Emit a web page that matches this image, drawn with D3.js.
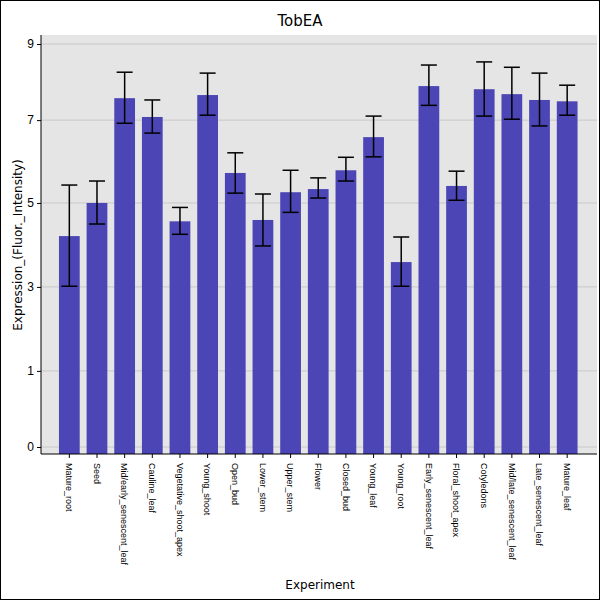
<!DOCTYPE html>
<html><head><meta charset="utf-8">
<script src="https://cdn.jsdelivr.net/npm/d3@7"></script>
<style>body{margin:0;background:#fff}svg{font-family:"DejaVu Sans",sans-serif}</style>
</head><body>
<script>
const categories = ["Mature_root","Seed","Mid/early_senescent_leaf","Cauline_leaf","Vegetative_shoot_apex","Young_shoot","Open_bud","Lower_stem","Upper_stem","Flower","Closed_bud","Young_leaf","Young_root","Early_senescent_leaf","Floral_shoot_apex","Cotyledons","Mid/late_senescent_leaf","Late_senescent_leaf","Mature_leaf"];
const values = [4.71,5.45,7.79,7.37,5.04,7.86,6.12,5.07,5.69,5.76,6.18,6.92,4.13,8.06,5.83,7.99,7.88,7.75,7.72];
const errHigh = [5.85,5.94,8.37,7.75,5.35,8.35,6.57,5.65,6.18,6.01,6.47,7.39,4.69,8.53,6.16,8.60,8.48,8.35,8.08];
const errLow = [3.59,4.98,7.23,7.01,4.75,7.41,5.67,4.49,5.24,5.56,5.94,6.48,3.59,7.63,5.51,7.39,7.32,7.17,7.41];
const tickVals = [0,1.7,3.575,5.45,7.3,9];

const W=600,H=600,m={l:41,r:3,t:35,b:146};
const svg=d3.select("body").append("svg").attr("width",W).attr("height",H);
svg.append("rect").attr("x",0.5).attr("y",0.5).attr("width",W-1).attr("height",H-1).attr("fill","#fff").attr("stroke","#000");
const x=d3.scaleBand().domain(categories).range([55.5,581]).paddingInner(0.25).paddingOuter(0.125);
const y=d3.scaleLinear().domain([0,9]).range([447,44]);
svg.append("rect").attr("x",m.l).attr("y",m.t).attr("width",W-m.r-m.l).attr("height",H-m.b-m.t).attr("fill","#e5e5e5");
svg.append("g").selectAll("line").data(tickVals).join("line")
  .attr("x1",m.l).attr("x2",W-m.r).attr("y1",d=>y(d)).attr("y2",d=>y(d)).attr("stroke","#c8c8c8");
svg.selectAll(".bar").data(values).join("rect")
  .attr("x",(d,i)=>x(categories[i])).attr("width",x.bandwidth())
  .attr("y",d=>y(d)).attr("height",d=>H-m.b-y(d)).attr("fill","#4b45b5");
const eg=svg.append("g").attr("stroke","#000").attr("stroke-width",1.5);
categories.forEach((c,i)=>{
  const cx=x(c)+x.bandwidth()/2;
  eg.append("line").attr("x1",cx).attr("x2",cx).attr("y1",y(errLow[i])).attr("y2",y(errHigh[i]));
  [errLow[i],errHigh[i]].forEach(v=>eg.append("line").attr("x1",cx-8).attr("x2",cx+8).attr("y1",y(v)).attr("y2",y(v)));
});
const ya=svg.append("g").attr("transform",`translate(${m.l},0)`)
  .call(d3.axisLeft(y).tickValues(tickVals).tickFormat(d=>Math.floor(d)).tickSize(4));
ya.select(".domain").remove();
ya.selectAll("text").attr("font-size",12).attr("fill","#000");
const xa=svg.append("g").attr("transform",`translate(0,${H-m.b})`).call(d3.axisBottom(x).tickSize(4));
xa.select(".domain").remove();
xa.selectAll("text").attr("font-size",9).attr("fill","#000").attr("transform","rotate(90)").attr("text-anchor","start")
  .attr("x",9).attr("y",0).attr("dy","0.35em");
svg.append("line").attr("x1",m.l).attr("x2",m.l).attr("y1",m.t).attr("y2",H-m.b).attr("stroke","#000");
svg.append("line").attr("x1",m.l).attr("x2",W-m.r).attr("y1",H-m.b).attr("y2",H-m.b).attr("stroke","#000");
svg.append("text").attr("x",W/2).attr("y",26).attr("text-anchor","middle").attr("font-size",15).text("TobEA");
svg.append("text").attr("x",320).attr("y",589).attr("text-anchor","middle").attr("font-size",12).text("Experiment");
svg.append("text").attr("transform","translate(22,245) rotate(-90)").attr("text-anchor","middle").attr("font-size",12).text("Expression_(Fluor._Intensity)");
</script>
</body></html>
